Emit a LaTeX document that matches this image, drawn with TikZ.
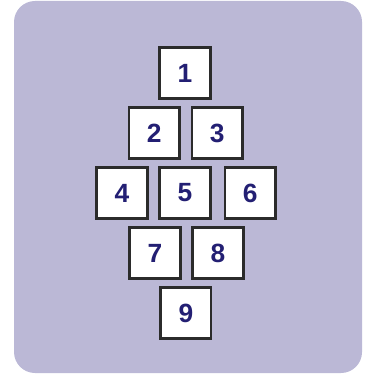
\documentclass[tikz,border=0pt]{standalone}
\usepackage{fontspec}
\setmainfont{Liberation Sans}
\definecolor{panel}{HTML}{BBB8D6}
\definecolor{digit}{HTML}{231F73}
\definecolor{frame}{HTML}{2B2B2B}
\begin{document}
\begin{tikzpicture}[
    cell/.style={draw=frame, line width=2.6pt, fill=white, minimum size=1.68cm, inner sep=0pt, font=\fontsize{25}{28}\selectfont\bfseries, text=digit},
    panelbox/.style={fill=panel, rounded corners=0.7cm}
]
\useasboundingbox (-6.167,-6.033) rectangle (6.1,6.433);

% Background
\fill[panelbox] (-5.7,-6.0) rectangle (5.9,6.4);

% Cells
\node[cell] (one) at (0, 4) {1};
\node[cell] (two) at (-1.03, 2) {2};
\node[cell] (three) at (1.07, 2) {3};
\node[cell] (four) at (-2.1, 0) {4};
\node[cell] (five) at (0, 0) {5};
\node[cell] (six) at (2.17, 0) {6};
\node[cell] (seven) at (-1.0, -2) {7};
\node[cell] (eight) at (1.1, -2) {8};
\node[cell] (nine) at (0.03, -4) {9};

\end{tikzpicture}
\end{document}
